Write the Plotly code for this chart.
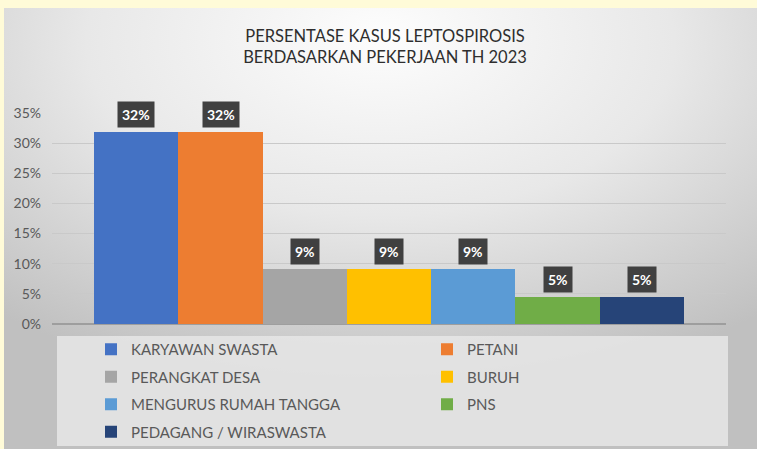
import base64
import plotly.graph_objects as go

categories = ["KARYAWAN SWASTA", "PETANI", "PERANGKAT DESA", "BURUH",
              "MENGURUS RUMAH TANGGA", "PNS", "PEDAGANG / WIRASWASTA"]
values = [0.318, 0.318, 0.091, 0.091, 0.091, 0.0455, 0.0455]
colors = ["#4472C4", "#ED7D31", "#A5A5A5", "#FFC000", "#5B9BD5", "#70AD47", "#264478"]
y_ticks = [0, 0.05, 0.10, 0.15, 0.20, 0.25, 0.30, 0.35]
title_text = "PERSENTASE KASUS LEPTOSPIROSIS<br>BERDASARKAN PEKERJAAN TH 2023"

# figure is placed at page offset (OFFX, OFFY) via body margin
OFFX, OFFY = 4, 8
W, H = 757 - OFFX, 449 - OFFY
L, R, T, B = 52 - OFFX, 757 - 726, 113 - OFFY, 449 - 324
pw, ph = W - L - R, H - T - B

def px_x(p):
    return (p - OFFX - L) / pw

def px_y(p):
    return (H - B - (p - OFFY)) / ph

FONT = "Lato, Open Sans, sans-serif"

svg = """<svg xmlns='http://www.w3.org/2000/svg' width='753' height='441' preserveAspectRatio='none'>
<defs><radialGradient id='g' cx='50%' cy='10%' r='78%' fx='50%' fy='6%'>
<stop offset='0%' stop-color='#fdfdfd'/><stop offset='50%' stop-color='#e8e8e8'/>
<stop offset='100%' stop-color='#c0c0c0'/></radialGradient></defs>
<rect width='753' height='441' fill='url(#g)'/></svg>"""
src = "data:image/svg+xml;base64," + base64.b64encode(svg.encode()).decode()

fig = go.Figure()
for i, (cat, val, col) in enumerate(zip(categories, values, colors)):
    fig.add_trace(go.Bar(x=[cat], y=[val], name=cat, legend="legend" if i % 2 == 0 else "legend2",
                         legendgroup="g%d" % i,
                         marker=dict(color=col, line=dict(width=0)), hoverinfo="skip"))
    fig.add_annotation(x=cat, y=val, xref="x", yref="y", text="<b>%d%%</b>" % round(val * 100),
                       showarrow=False, yanchor="bottom", yshift=4, bgcolor="#404040",
                       borderpad=4, font=dict(color="white", size=14, family=FONT))

leg_common = dict(orientation="v", xanchor="left", yanchor="top", bgcolor="rgba(0,0,0,0)",
                  font=dict(family=FONT, size=15, color="#595959"), tracegroupgap=5,
                  traceorder="grouped", itemclick=False, itemdoubleclick=False)

fig.update_layout(
    width=W, height=H,
    margin=dict(l=L, r=R, t=T, b=B, autoexpand=False),
    paper_bgcolor="#d0d0d0",
    plot_bgcolor="rgba(0,0,0,0)",
    barmode="group", bargap=0, bargroupgap=0,
    title=dict(text=title_text, x=px_x(385), xref="paper", xanchor="center",
               y=1 - (42 - OFFY) / H, yref="container", yanchor="middle",
               font=dict(family=FONT, size=16.5, color="#2e2e2e")),
    showlegend=True,
    legend=dict(x=px_x(91), y=px_y(333), **leg_common),
    legend2=dict(x=px_x(427), y=px_y(333), **leg_common),
    images=[dict(source=src, xref="paper", yref="paper", x=px_x(OFFX), y=px_y(OFFY),
                 sizex=W / pw, sizey=H / ph, sizing="stretch",
                 xanchor="left", yanchor="top", layer="below")],
    shapes=[dict(type="rect", xref="paper", yref="paper", x0=px_x(57), x1=px_x(728),
                 y0=px_y(336), y1=px_y(446), fillcolor="rgba(230,230,230,0.85)",
                 line=dict(width=0), layer="below")],
    xaxis=dict(type="category", range=[-1, 7], showticklabels=False, showgrid=False,
               zeroline=False, showline=False, fixedrange=True),
    yaxis=dict(range=[0, 0.35], tickvals=y_ticks, tickformat=".0%", showgrid=True,
               gridcolor="#c9c9c9", gridwidth=1, zeroline=True, zerolinecolor="#9e9e9e",
               zerolinewidth=1.5, showline=False, ticks="", ticklabelstandoff=10,
               tickfont=dict(family=FONT, size=14, color="#595959"), fixedrange=True),
)

post = ("document.body.style.margin='%dpx 0 0 %dpx';"
        "document.body.style.backgroundColor='#FFFBD8';"
        "document.documentElement.style.backgroundColor='#FFFBD8';"
        "document.body.style.overflow='hidden';") % (OFFY, OFFX)
fig.write_html("out.html", post_script=post)
